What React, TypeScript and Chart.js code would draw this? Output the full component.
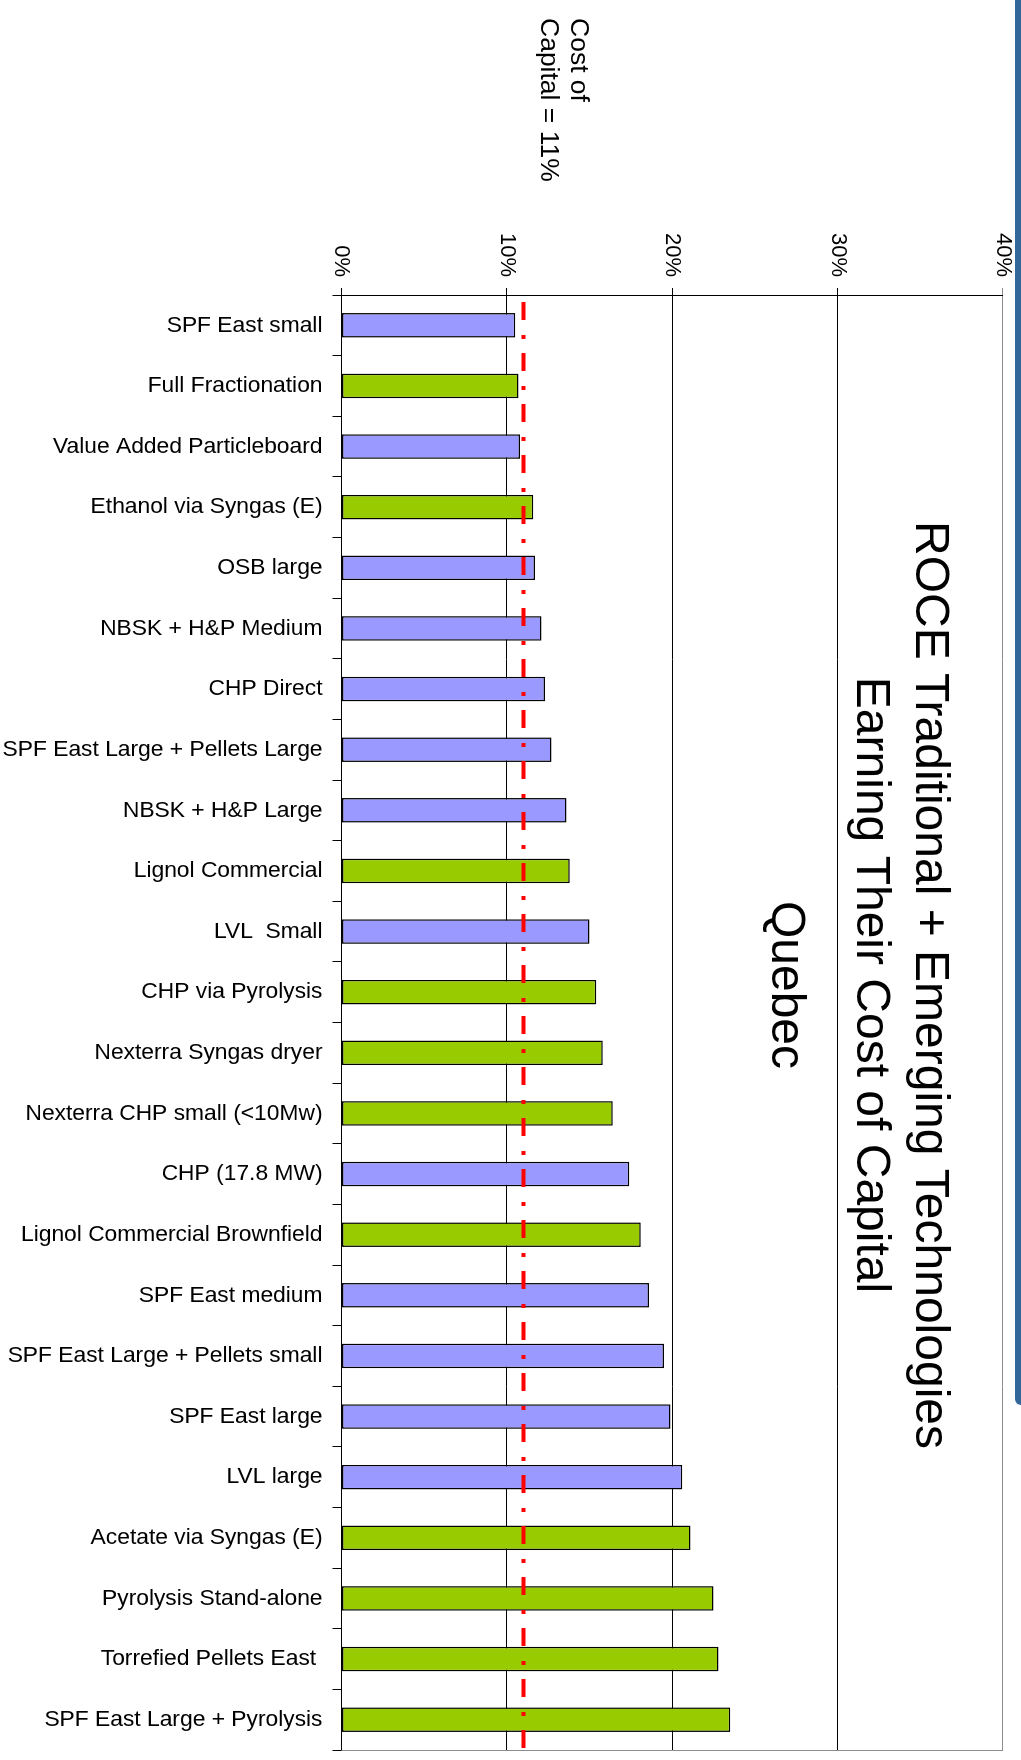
import React, { useEffect, useRef } from "react";
import { Chart, registerables } from "chart.js";

Chart.register(...registerables);

// Projects, ordered by return on capital employed
const CATEGORIES = [
  "SPF East small",
  "Full Fractionation",
  "Value Added Particleboard",
  "Ethanol via Syngas (E)",
  "OSB large",
  "NBSK + H&P Medium",
  "CHP Direct",
  "SPF East Large + Pellets Large",
  "NBSK + H&P Large",
  "Lignol Commercial",
  "LVL  Small",
  "CHP via Pyrolysis",
  "Nexterra Syngas dryer",
  "Nexterra CHP small (<10Mw)",
  "CHP (17.8 MW)",
  "Lignol Commercial Brownfield",
  "SPF East medium",
  "SPF East Large + Pellets small",
  "SPF East large",
  "LVL large",
  "Acetate via Syngas (E)",
  "Pyrolysis Stand-alone",
  "Torrefied Pellets East ",
  "SPF East Large + Pyrolysis",
];

// ROCE, percent
const ROCE = [
  10.5, 10.7, 10.8, 11.6, 11.7, 12.1, 12.3, 12.7, 13.6, 13.8, 15.0, 15.4,
  15.8, 16.4, 17.4, 18.1, 18.6, 19.5, 19.9, 20.6, 21.1, 22.5, 22.8, 23.5,
];

// T = traditional, E = emerging technology
const GROUP = [
  "T", "E", "T", "E", "T", "T", "T", "T", "T", "E", "T", "E",
  "E", "E", "T", "E", "T", "T", "T", "T", "E", "E", "E", "E",
];

const VALUE_MIN = 0;
const VALUE_MAX = 40;
const VALUE_STEP = 10;
const COST_OF_CAPITAL = 11;

const TITLE_LINES = ["ROCE Traditional + Emerging Technologies", "Earning Their Cost of Capital"];
const SUBTITLE = "Quebec";
const NOTE_LINES = ["Cost of", "Capital = 11%"];

const COLORS: Record<string, string> = { T: "#9999FF", E: "#99CC00" };

const SANS = "'Liberation Sans', Arial, sans-serif";

function hasFont(name: string): boolean {
  const c = document.createElement("canvas").getContext("2d");
  if (!c) return false;
  const sample = "0123456789%abcdefghijklmnop";
  c.font = "40px monospace";
  const base = c.measureText(sample).width;
  c.font = `40px '${name}', monospace`;
  return c.measureText(sample).width !== base;
}

// Canvas is drawn as an upright column chart, then turned a quarter clockwise.
const CANVAS_W = 1760;
const CANVAS_H = 1021;

const overlay = {
  id: "roceOverlay",
  afterDatasetsDraw(chart: any) {
    const { ctx, chartArea, scales } = chart;
    ctx.save();
    // far edge of the plot frame
    const edge = Math.round(chartArea.right) + 0.5;
    ctx.strokeStyle = "#8c8c8c";
    ctx.lineWidth = 1;
    ctx.beginPath();
    ctx.moveTo(edge, chartArea.top);
    ctx.lineTo(edge, chartArea.bottom);
    ctx.stroke();

    // cost of capital line
    const y = scales.y.getPixelForValue(COST_OF_CAPITAL);
    ctx.strokeStyle = "#FF0000";
    ctx.lineWidth = 4;
    ctx.setLineDash([18, 15, 4, 14]);
    ctx.beginPath();
    ctx.moveTo(chartArea.left + 7, y);
    ctx.lineTo(chart.width, y);
    ctx.stroke();
    ctx.restore();
  },
  afterDraw(chart: any) {
    const { ctx } = chart;
    ctx.save();
    ctx.fillStyle = "#000";
    ctx.textBaseline = "alphabetic";

    ctx.font = `48px ${SANS}`;
    ctx.textAlign = "center";
    const cx = 985;
    ctx.fillText(TITLE_LINES[0], cx, 105);
    ctx.fillText(TITLE_LINES[1], cx, 164);
    ctx.fillText(SUBTITLE, cx, 249);

    ctx.font = `26.5px ${SANS}`;
    ctx.textAlign = "left";
    ctx.fillText(NOTE_LINES[0], 18, 450);
    ctx.fillText(NOTE_LINES[1], 18, 480);
    ctx.restore();
  },
};

export default function App() {
  const ref = useRef<HTMLCanvasElement | null>(null);

  useEffect(() => {
    if (!ref.current) return;
    const narrow = hasFont("Liberation Sans Narrow");
    const valueFont = narrow
      ? { family: "'Liberation Sans Narrow', " + SANS, size: 25 }
      : { family: SANS, size: 22 };

    const chart = new Chart(ref.current, {
      type: "bar",
      data: {
        labels: CATEGORIES,
        datasets: [
          {
            data: ROCE,
            backgroundColor: GROUP.map((g) => COLORS[g]),
            borderColor: "#000000",
            borderWidth: 1.5,
            borderSkipped: false,
            barPercentage: 0.405,
            categoryPercentage: 1,
          },
        ],
      },
      options: {
        responsive: false,
        animation: false,
        devicePixelRatio: 1,
        layout: { padding: { top: 18, right: 10, left: 0, bottom: 0 }, autoPadding: false },
        plugins: {
          legend: { display: false },
          tooltip: { enabled: false },
          title: { display: false },
        },
        scales: {
          x: {
            type: "category",
            position: "bottom",
            afterFit: (s: any) => {
              s.height = 341.5;
              s.paddingLeft = 0;
              s.paddingRight = 0;
            },
            grid: {
              offset: true,
              drawOnChartArea: false,
              drawTicks: true,
              tickLength: 9,
              color: "#000000",
            },
            border: { color: "#000000", width: 1 },
            ticks: {
              autoSkip: false,
              minRotation: 90,
              maxRotation: 90,
              padding: 10,
              color: "#000000",
              font: { family: SANS, size: 22.8 },
            },
          },
          y: {
            position: "left",
            min: VALUE_MIN,
            max: VALUE_MAX,
            afterFit: (s: any) => {
              s.width = 295;
              s.paddingTop = 0;
              s.paddingBottom = 0;
            },
            grid: {
              color: (c: any) => (c.tick && c.tick.value === VALUE_MAX ? "#8c8c8c" : "#000000"),
              lineWidth: 1,
              drawTicks: true,
              tickLength: 7,
            },
            border: { color: "#000000", width: 1 },
            ticks: {
              stepSize: VALUE_STEP,
              padding: 11,
              color: "#000000",
              font: valueFont,
              callback: (v: any) => `${v}%`,
            },
          },
        },
      },
      plugins: [overlay],
    } as any);

    return () => chart.destroy();
  }, []);

  return (
    <div
      style={{
        position: "absolute",
        left: 0,
        top: 0,
        width: 1021,
        height: 1760,
        overflow: "hidden",
        background: "#ffffff",
      }}
    >
      <canvas
        ref={ref}
        width={CANVAS_W}
        height={CANVAS_H}
        style={{
          position: "absolute",
          left: 0,
          top: 0,
          width: CANVAS_W,
          height: CANVAS_H,
          transformOrigin: "0 0",
          transform: "translate(1021px, 0) rotate(90deg)",
        }}
      />
      <div
        style={{
          position: "absolute",
          left: 1015,
          top: 0,
          width: 6,
          height: 1405,
          background: "#336699",
          borderBottomLeftRadius: 6,
        }}
      />
    </div>
  );
}
